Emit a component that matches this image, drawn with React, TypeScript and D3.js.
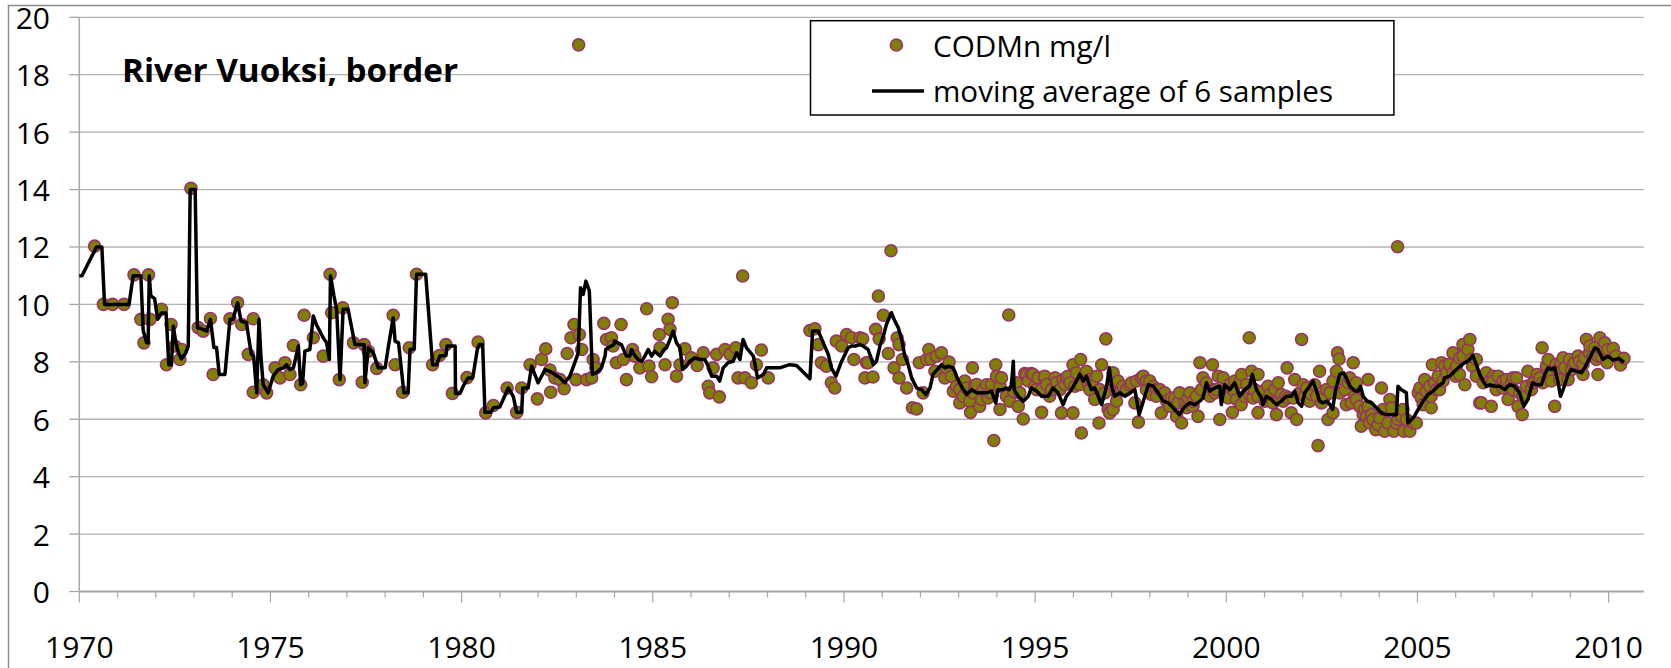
import { line, scaleLinear } from 'd3'
import { useMemo } from 'react'

type Sample = [number, number] // [decimal year, value]

// CODMn samples, mg/l
const codSamples: Sample[] = [
  [1970.4, 12.03], [1970.63, 10.0], [1970.87, 10.0], [1971.17, 10.0], [1971.43, 11.03], [1971.61, 9.48],
  [1971.69, 8.66], [1971.81, 11.03], [1971.85, 9.48], [1972.15, 9.83], [1972.28, 7.9], [1972.4, 9.3],
  [1972.5, 8.55], [1972.63, 8.08], [1972.68, 8.43], [1972.92, 14.04], [1973.11, 9.19], [1973.24, 9.07],
  [1973.43, 9.51], [1973.5, 7.56], [1973.94, 9.5], [1974.14, 10.06], [1974.25, 9.3], [1974.42, 8.26],
  [1974.55, 9.5], [1974.55, 6.94], [1974.81, 7.2], [1974.9, 6.92], [1975.12, 7.79], [1975.25, 7.44],
  [1975.38, 7.97], [1975.51, 7.56], [1975.6, 8.57], [1975.79, 7.2], [1975.88, 9.62], [1976.12, 8.84],
  [1976.38, 8.2], [1976.56, 11.05], [1976.6, 9.71], [1976.8, 7.38], [1976.89, 9.88], [1977.17, 8.66],
  [1977.4, 7.29], [1977.45, 8.6], [1977.56, 8.37], [1977.78, 7.77], [1978.21, 9.62], [1978.26, 7.9],
  [1978.46, 6.94], [1978.63, 8.49], [1978.82, 11.05], [1979.24, 7.9], [1979.42, 8.22], [1979.59, 8.6],
  [1979.76, 6.9], [1980.14, 7.45], [1980.43, 8.69], [1980.63, 6.22], [1980.83, 6.48], [1981.19, 7.09],
  [1981.44, 6.24], [1981.57, 7.09], [1981.79, 7.9], [1981.98, 6.71], [1982.09, 8.08], [1982.2, 8.45],
  [1982.31, 7.71], [1982.33, 6.94], [1982.44, 7.44], [1982.57, 7.38], [1982.68, 7.06], [1982.76, 8.29],
  [1982.86, 8.84], [1982.94, 9.3], [1982.99, 7.38], [1983.06, 19.04], [1983.08, 8.95], [1983.14, 8.43],
  [1983.27, 7.38], [1983.4, 7.44], [1983.44, 8.08], [1983.51, 7.79], [1983.72, 9.34], [1983.79, 8.78],
  [1983.92, 8.84], [1983.96, 8.55], [1984.05, 7.97], [1984.17, 9.3], [1984.23, 8.08], [1984.31, 7.38],
  [1984.47, 8.43], [1984.53, 8.2], [1984.66, 7.79], [1984.84, 9.85], [1984.9, 7.85], [1984.97, 7.48],
  [1985.17, 8.95], [1985.19, 8.49], [1985.32, 7.9], [1985.4, 9.48], [1985.45, 9.13], [1985.51, 10.06],
  [1985.62, 7.5], [1985.71, 7.9], [1985.84, 8.45], [1986.01, 8.14], [1986.16, 7.87], [1986.32, 8.31],
  [1986.45, 7.15], [1986.49, 6.92], [1986.58, 7.79], [1986.67, 8.26], [1986.74, 6.78], [1986.89, 8.43],
  [1987.02, 8.26], [1987.17, 8.49], [1987.23, 7.44], [1987.35, 10.99], [1987.41, 7.44], [1987.58, 7.27],
  [1987.71, 7.9], [1987.84, 8.41], [1988.02, 7.44], [1989.11, 9.09], [1989.24, 9.15], [1989.33, 8.6],
  [1989.41, 7.97], [1989.54, 7.85], [1989.67, 7.27], [1989.76, 7.09], [1989.8, 8.72], [1989.94, 8.55],
  [1990.07, 8.95], [1990.2, 8.84], [1990.26, 8.08], [1990.42, 8.84], [1990.49, 8.8], [1990.55, 7.44],
  [1990.59, 7.97], [1990.63, 7.97], [1990.76, 7.47], [1990.83, 9.13], [1990.9, 10.29], [1990.92, 8.8],
  [1991.03, 9.62], [1991.16, 8.29], [1991.23, 11.87], [1991.31, 7.79], [1991.39, 8.84], [1991.44, 8.6],
  [1991.44, 7.44], [1991.53, 8.08], [1991.64, 7.09], [1991.79, 6.4], [1991.9, 6.36], [1991.97, 7.97],
  [1992.07, 6.92], [1992.16, 8.08], [1992.22, 8.43], [1992.27, 8.1], [1992.38, 7.67], [1992.42, 8.2],
  [1992.55, 8.31], [1992.64, 7.44], [1992.68, 7.79], [1992.75, 7.99], [1992.81, 7.5], [1992.86, 6.98],
  [1992.94, 7.15], [1993.03, 6.57], [1993.03, 7.03], [1993.12, 6.8], [1993.16, 7.33], [1993.21, 7.09],
  [1993.29, 6.63], [1993.31, 6.24], [1993.36, 7.79], [1993.38, 6.92], [1993.42, 7.17], [1993.47, 7.21],
  [1993.55, 6.45], [1993.6, 6.69], [1993.64, 7.03], [1993.73, 7.2], [1993.77, 6.74], [1993.82, 6.92],
  [1993.86, 7.21], [1993.92, 5.26], [1993.97, 7.9], [1993.99, 7.5], [1994.08, 6.34], [1994.08, 7.15],
  [1994.12, 7.44], [1994.25, 6.8], [1994.31, 9.63], [1994.34, 6.63], [1994.43, 6.98], [1994.51, 7.27],
  [1994.56, 6.45], [1994.6, 6.92], [1994.69, 6.01], [1994.73, 7.59], [1994.77, 7.56], [1994.82, 7.33],
  [1994.9, 7.59], [1994.95, 7.56], [1994.99, 7.15], [1995.04, 7.03], [1995.08, 7.44], [1995.17, 6.24],
  [1995.17, 7.03], [1995.25, 7.44], [1995.25, 7.5], [1995.3, 7.21], [1995.38, 6.8], [1995.43, 7.03],
  [1995.52, 7.44], [1995.56, 7.27], [1995.65, 7.03], [1995.69, 6.22], [1995.73, 7.38], [1995.78, 7.21],
  [1995.82, 7.44], [1995.86, 7.5], [1995.91, 7.27], [1995.99, 7.9], [1995.99, 6.22], [1996.04, 7.15],
  [1996.08, 7.62], [1996.17, 7.21], [1996.19, 8.08], [1996.21, 5.52], [1996.27, 7.5], [1996.34, 7.67],
  [1996.39, 7.27], [1996.43, 7.03], [1996.43, 7.38], [1996.52, 7.33], [1996.56, 6.69], [1996.61, 7.5],
  [1996.67, 5.87], [1996.69, 7.03], [1996.74, 7.9], [1996.82, 6.92], [1996.85, 8.8], [1996.91, 6.34],
  [1996.95, 6.22], [1997.04, 7.62], [1997.04, 6.34], [1997.06, 7.27], [1997.13, 6.92], [1997.13, 6.63],
  [1997.17, 7.33], [1997.26, 7.03], [1997.3, 7.15], [1997.39, 7.03], [1997.48, 7.2], [1997.52, 7.27],
  [1997.61, 6.57], [1997.65, 7.33], [1997.7, 5.9], [1997.78, 7.44], [1997.83, 7.5], [1997.91, 7.33],
  [1997.91, 7.03], [1998.0, 7.33], [1998.04, 6.86], [1998.09, 7.15], [1998.17, 7.03], [1998.17, 6.8],
  [1998.26, 7.03], [1998.3, 6.22], [1998.39, 6.92], [1998.44, 6.63], [1998.52, 6.45], [1998.57, 6.74],
  [1998.65, 6.74], [1998.7, 6.1], [1998.74, 6.57], [1998.78, 6.92], [1998.83, 5.87], [1998.92, 6.57],
  [1998.96, 6.4], [1999.0, 6.74], [1999.05, 6.92], [1999.13, 6.45], [1999.13, 6.63], [1999.22, 6.8],
  [1999.26, 6.1], [1999.31, 7.97], [1999.35, 7.03], [1999.39, 7.44], [1999.48, 7.27], [1999.57, 6.8],
  [1999.64, 7.9], [1999.66, 7.03], [1999.7, 6.92], [1999.74, 7.03], [1999.79, 7.5], [1999.83, 5.99],
  [1999.92, 7.44], [1999.96, 6.92], [2000.0, 7.03], [2000.05, 6.74], [2000.09, 7.21], [2000.16, 6.24],
  [2000.18, 7.03], [2000.22, 7.33], [2000.27, 6.69], [2000.35, 7.27], [2000.39, 6.51], [2000.4, 7.56],
  [2000.48, 6.8], [2000.53, 7.21], [2000.6, 8.84], [2000.61, 6.86], [2000.66, 7.03], [2000.66, 7.67],
  [2000.7, 6.74], [2000.74, 7.03], [2000.83, 7.56], [2000.83, 6.23], [2000.83, 6.8], [2000.96, 6.98],
  [2001.01, 6.63], [2001.09, 7.15], [2001.14, 6.86], [2001.22, 6.57], [2001.27, 7.03], [2001.31, 6.16],
  [2001.36, 7.27], [2001.44, 6.86], [2001.49, 6.63], [2001.56, 6.8], [2001.59, 7.79], [2001.62, 6.74],
  [2001.7, 6.22], [2001.75, 6.74], [2001.79, 7.38], [2001.84, 5.99], [2001.92, 6.92], [2001.97, 8.78],
  [2002.01, 7.2], [2002.05, 6.8], [2002.1, 7.09], [2002.18, 6.63], [2002.23, 6.86], [2002.31, 7.2],
  [2002.36, 6.8], [2002.4, 5.08], [2002.44, 7.67], [2002.49, 6.57], [2002.58, 6.8], [2002.62, 7.03],
  [2002.66, 5.99], [2002.71, 6.92], [2002.79, 6.22], [2002.79, 7.33], [2002.88, 7.67], [2002.91, 8.31],
  [2002.95, 8.1], [2002.97, 6.92], [2003.06, 7.38], [2003.1, 7.03], [2003.14, 6.51], [2003.19, 7.27],
  [2003.23, 7.44], [2003.27, 6.57], [2003.32, 7.97], [2003.36, 6.8], [2003.4, 7.27], [2003.4, 6.69],
  [2003.49, 6.45], [2003.53, 5.76], [2003.58, 6.16], [2003.62, 6.34], [2003.67, 6.1], [2003.71, 7.38],
  [2003.71, 6.45], [2003.75, 5.87], [2003.8, 6.16], [2003.84, 5.99], [2003.91, 5.64], [2003.97, 5.81],
  [2004.01, 6.05], [2004.06, 7.09], [2004.1, 6.34], [2004.14, 5.58], [2004.23, 5.87], [2004.28, 6.69],
  [2004.32, 6.4], [2004.38, 5.58], [2004.45, 5.87], [2004.48, 12.01], [2004.49, 5.99], [2004.58, 6.1],
  [2004.62, 6.34], [2004.64, 5.58], [2004.71, 5.99], [2004.8, 5.58], [2004.89, 5.87], [2004.97, 5.87],
  [2005.02, 6.92], [2005.06, 7.09], [2005.1, 6.74], [2005.15, 6.51], [2005.19, 7.38], [2005.23, 6.98],
  [2005.32, 7.15], [2005.36, 6.4], [2005.36, 6.8], [2005.39, 7.9], [2005.45, 7.27], [2005.5, 7.03],
  [2005.54, 7.5], [2005.58, 7.03], [2005.63, 7.97], [2005.67, 7.33], [2005.71, 7.85], [2005.76, 7.62],
  [2005.84, 7.91], [2005.93, 8.31], [2005.93, 7.62], [2006.0, 7.5], [2006.02, 7.85], [2006.1, 7.56],
  [2006.11, 8.14], [2006.19, 8.6], [2006.19, 8.2], [2006.24, 7.2], [2006.32, 8.43], [2006.37, 8.78],
  [2006.41, 8.08], [2006.44, 7.85], [2006.54, 8.08], [2006.54, 7.5], [2006.63, 6.57], [2006.67, 6.57],
  [2006.72, 7.27], [2006.76, 7.5], [2006.8, 7.62], [2006.89, 7.33], [2006.93, 6.45], [2006.98, 7.5],
  [2006.98, 7.33], [2007.06, 7.03], [2007.11, 7.5], [2007.2, 7.21], [2007.24, 7.33], [2007.24, 7.09],
  [2007.33, 7.38], [2007.37, 6.69], [2007.46, 7.27], [2007.5, 7.44], [2007.5, 7.03], [2007.59, 7.44],
  [2007.63, 6.45], [2007.67, 6.92], [2007.74, 6.16], [2007.76, 6.8], [2007.85, 7.15], [2007.89, 7.67],
  [2007.98, 7.03], [2008.02, 7.27], [2008.07, 7.33], [2008.13, 7.56], [2008.2, 7.44], [2008.26, 8.49],
  [2008.28, 7.27], [2008.37, 7.85], [2008.42, 8.08], [2008.46, 7.62], [2008.5, 7.33], [2008.59, 6.45],
  [2008.63, 7.91], [2008.68, 7.73], [2008.72, 7.38], [2008.76, 7.97], [2008.81, 8.14], [2008.85, 7.79],
  [2008.94, 7.38], [2008.98, 8.08], [2009.03, 7.73], [2009.07, 7.9], [2009.11, 7.97], [2009.2, 8.2],
  [2009.24, 8.02], [2009.33, 7.56], [2009.33, 7.91], [2009.37, 8.14], [2009.42, 8.78], [2009.5, 8.31],
  [2009.51, 8.55], [2009.59, 8.2], [2009.64, 8.49], [2009.68, 8.08], [2009.72, 7.56], [2009.72, 8.2],
  [2009.77, 8.84], [2009.81, 8.2], [2009.85, 8.43], [2009.9, 8.66], [2009.96, 7.97], [2009.98, 8.43],
  [2010.12, 8.47], [2010.2, 8.2], [2010.31, 7.89], [2010.4, 8.12],
]

// moving average of 6 samples, as drawn
const movingAverage: Sample[] = [
  [1970.0, 11], [1970.07, 11], [1970.45, 12], [1970.59, 12], [1970.66, 10], [1971.3, 10], [1971.41, 11],
  [1971.61, 11], [1971.67, 9.1], [1971.76, 8.66], [1971.8, 8.66], [1971.83, 11], [1971.87, 10.3],
  [1971.97, 10.2], [1972.05, 9.48], [1972.15, 9.7], [1972.27, 9.7], [1972.34, 7.9], [1972.41, 7.9],
  [1972.46, 9.25], [1972.52, 8.7], [1972.6, 8.3], [1972.67, 8.1], [1972.78, 8.3], [1972.85, 8.55],
  [1972.9, 14], [1973.03, 14], [1973.09, 9.19], [1973.23, 9.13], [1973.33, 9.07], [1973.43, 9.48],
  [1973.52, 8.5], [1973.59, 8.5], [1973.66, 7.56], [1973.81, 7.56], [1973.94, 9.48], [1974.02, 9.48],
  [1974.14, 10.06], [1974.23, 9.42], [1974.37, 9.36], [1974.5, 8.26], [1974.56, 8.2], [1974.64, 6.92],
  [1974.7, 9.48], [1974.75, 8.2], [1974.81, 7.2], [1974.94, 6.92], [1975.07, 7.5], [1975.2, 7.73],
  [1975.35, 7.79], [1975.42, 7.9], [1975.51, 7.73], [1975.6, 7.79], [1975.73, 8.55], [1975.79, 7.2],
  [1975.84, 7.25], [1975.9, 8.37], [1976.03, 8.43], [1976.12, 9.6], [1976.2, 9.3], [1976.29, 9.07],
  [1976.38, 8.84], [1976.47, 8.66], [1976.54, 8.08], [1976.57, 11], [1976.66, 10.3], [1976.73, 9.83],
  [1976.82, 7.38], [1976.9, 9.83], [1977.03, 9.83], [1977.21, 8.6], [1977.45, 8.6], [1977.47, 7.27],
  [1977.56, 8.49], [1977.69, 8.31], [1977.82, 7.79], [1978.0, 7.79], [1978.08, 8.5], [1978.21, 9.53],
  [1978.26, 8.72], [1978.35, 8.66], [1978.49, 6.92], [1978.6, 6.92], [1978.65, 8.43], [1978.76, 8.45],
  [1978.82, 11.05], [1979.06, 11.05], [1979.24, 7.9], [1979.35, 7.9], [1979.43, 8.2], [1979.59, 8.22],
  [1979.62, 8.55], [1979.83, 8.55], [1979.84, 6.9], [1979.96, 6.9], [1980.04, 7.15], [1980.17, 7.44],
  [1980.29, 7.44], [1980.41, 8.43], [1980.46, 8.6], [1980.55, 8.6], [1980.61, 6.24], [1980.76, 6.24],
  [1980.83, 6.4], [1981.0, 6.43], [1981.22, 7.09], [1981.35, 6.8], [1981.44, 6.24], [1981.57, 6.24],
  [1981.6, 7.09], [1981.74, 7.09], [1981.83, 7.85], [1982.0, 7.27], [1982.18, 7.73], [1982.31, 7.67],
  [1982.44, 7.56], [1982.57, 7.44], [1982.7, 7.27], [1982.83, 7.5], [1982.96, 7.97], [1983.05, 8.31],
  [1983.11, 10.58], [1983.18, 10.35], [1983.25, 10.81], [1983.34, 10.47], [1983.42, 7.56], [1983.53, 7.62],
  [1983.66, 7.79], [1983.75, 8.2], [1983.77, 8.43], [1983.83, 8.49], [1983.98, 8.6], [1984.0, 8.72],
  [1984.18, 8.6], [1984.31, 8.2], [1984.4, 8.2], [1984.44, 8.43], [1984.53, 8.22], [1984.62, 8.08],
  [1984.71, 8.02], [1984.79, 8.2], [1984.88, 8.43], [1984.97, 8.2], [1985.05, 8.37], [1985.19, 8.2],
  [1985.29, 8.43], [1985.36, 8.49], [1985.45, 8.78], [1985.53, 9.07], [1985.62, 8.66], [1985.71, 8.49],
  [1985.78, 7.73], [1985.88, 7.85], [1985.97, 8.02], [1986.1, 8.14], [1986.23, 8.08], [1986.36, 8.08],
  [1986.45, 7.85], [1986.54, 7.5], [1986.67, 7.5], [1986.75, 7.33], [1986.84, 7.79], [1986.97, 7.97],
  [1987.1, 8.02], [1987.19, 8.31], [1987.28, 8.08], [1987.36, 8.78], [1987.45, 8.49], [1987.63, 8.2],
  [1987.74, 7.44], [1987.89, 7.56], [1987.98, 7.79], [1988.32, 7.79], [1988.58, 7.9], [1988.76, 7.87],
  [1989.11, 7.41], [1989.18, 9.07], [1989.33, 9.07], [1989.46, 8.66], [1989.59, 8.26], [1989.67, 7.79],
  [1989.79, 7.5], [1989.94, 8.02], [1990.11, 8.49], [1990.2, 8.55], [1990.3, 8.55], [1990.42, 8.6],
  [1990.5, 8.55], [1990.63, 8.43], [1990.77, 7.9], [1990.85, 8.02], [1990.94, 8.55], [1991.03, 8.9],
  [1991.11, 9.3], [1991.24, 9.71], [1991.33, 9.42], [1991.42, 9.19], [1991.51, 8.78], [1991.59, 8.2],
  [1991.68, 7.9], [1991.77, 7.44], [1991.9, 7.09], [1992.03, 7.03], [1992.14, 6.86], [1992.25, 7.09],
  [1992.33, 7.56], [1992.44, 7.73], [1992.55, 7.9], [1992.64, 7.79], [1992.73, 7.85], [1992.86, 7.79],
  [1992.96, 7.44], [1993.07, 7.15], [1993.21, 6.86], [1993.34, 7.03], [1993.47, 6.92], [1993.6, 6.92],
  [1993.73, 6.92], [1993.86, 6.98], [1993.97, 6.57], [1994.03, 7.03], [1994.15, 7.03], [1994.25, 7.09],
  [1994.32, 7.03], [1994.38, 7.2], [1994.43, 8.02], [1994.45, 7.03], [1994.56, 6.8], [1994.69, 6.63],
  [1994.82, 6.8], [1994.9, 7.09], [1995.04, 6.98], [1995.17, 6.8], [1995.34, 6.8], [1995.47, 7.09],
  [1995.6, 6.92], [1995.73, 6.51], [1995.82, 6.8], [1995.95, 7.03], [1996.08, 7.33], [1996.17, 7.56],
  [1996.26, 7.33], [1996.34, 7.5], [1996.47, 7.03], [1996.56, 7.09], [1996.65, 6.8], [1996.74, 6.51],
  [1996.87, 7.15], [1996.94, 7.79], [1997.0, 7.15], [1997.08, 6.8], [1997.22, 6.92], [1997.35, 6.8],
  [1997.48, 6.92], [1997.61, 7.03], [1997.72, 6.16], [1997.83, 6.63], [1997.96, 7.2], [1998.09, 7.15],
  [1998.22, 6.92], [1998.35, 6.63], [1998.48, 6.57], [1998.61, 6.4], [1998.77, 6.16], [1998.92, 6.45],
  [1999.05, 6.57], [1999.18, 6.51], [1999.31, 6.63], [1999.39, 6.74], [1999.48, 7.27], [1999.57, 6.98],
  [1999.7, 7.09], [1999.83, 7.15], [1999.87, 6.51], [1999.96, 7.2], [2000.09, 7.03], [2000.22, 7.27],
  [2000.35, 6.8], [2000.48, 7.03], [2000.61, 7.15], [2000.68, 7.56], [2000.79, 7.03], [2000.92, 6.74],
  [2000.96, 6.51], [2001.05, 6.8], [2001.18, 6.69], [2001.31, 6.51], [2001.44, 6.63], [2001.57, 6.8],
  [2001.7, 6.8], [2001.79, 6.98], [2001.88, 6.57], [2001.97, 6.45], [2002.05, 6.92], [2002.18, 7.15],
  [2002.27, 7.33], [2002.36, 6.98], [2002.44, 6.63], [2002.53, 6.57], [2002.64, 6.63], [2002.71, 6.51],
  [2002.78, 6.34], [2002.86, 7.03], [2002.97, 7.56], [2003.07, 7.62], [2003.14, 7.44], [2003.23, 7.15],
  [2003.36, 6.98], [2003.45, 6.98], [2003.51, 7.15], [2003.58, 6.8], [2003.68, 6.63], [2003.8, 6.57],
  [2003.93, 6.4], [2004.06, 6.22], [2004.19, 6.16], [2004.32, 6.16], [2004.45, 6.16], [2004.49, 7.15],
  [2004.58, 7.03], [2004.71, 6.92], [2004.75, 5.87], [2004.89, 6.05], [2005.02, 6.34], [2005.15, 6.63],
  [2005.28, 6.86], [2005.41, 6.98], [2005.54, 7.15], [2005.67, 7.27], [2005.71, 7.44], [2005.84, 7.5],
  [2006.02, 7.73], [2006.12, 7.85], [2006.24, 7.97], [2006.32, 8.02], [2006.45, 8.22], [2006.54, 7.9],
  [2006.63, 7.56], [2006.72, 7.33], [2006.8, 7.15], [2006.89, 7.2], [2007.02, 7.15], [2007.15, 7.15],
  [2007.28, 7.03], [2007.41, 7.2], [2007.54, 7.15], [2007.67, 6.92], [2007.78, 6.45], [2007.89, 6.69],
  [2008.01, 7.27], [2008.11, 7.2], [2008.24, 7.2], [2008.33, 7.56], [2008.42, 7.79], [2008.5, 7.73],
  [2008.59, 7.79], [2008.68, 7.27], [2008.74, 6.8], [2008.81, 7.03], [2008.94, 7.56], [2009.03, 7.73],
  [2009.16, 7.67], [2009.29, 7.62], [2009.37, 7.79], [2009.51, 8.14], [2009.64, 8.49], [2009.72, 8.43],
  [2009.85, 8.08], [2009.98, 8.2], [2010.12, 8.06], [2010.27, 8.12], [2010.4, 7.98],
]

const yTicks = [0, 2, 4, 6, 8, 10, 12, 14, 16, 18, 20]
const xLabelYears = [1970, 1975, 1980, 1985, 1990, 1995, 2000, 2005, 2010]
const xMinorYears = [
  1971, 1972, 1973, 1974, 1976, 1977, 1978, 1979, 1981, 1982, 1983, 1984, 1986, 1987, 1988, 1989, 1991,
  1992, 1993, 1994, 1996, 1997, 1998, 1999, 2001, 2002, 2003, 2004, 2006, 2007, 2008, 2009,
]
const chartTitle = 'River Vuoksi, border'
const legendLabels = ['CODMn mg/l', 'moving average of 6 samples']

const FONT = "'Open Sans', 'DejaVu Sans', sans-serif"
const DOT_FILL = '#808000'
const DOT_STROKE = '#993366'
const GRID = '#b3b3b3'
const AXIS = '#a6a6a6'

export default function App() {
  const left = 79.3
  const right = 1643.8
  const top = 17.3
  const bottom = 591.5

  // x scale (decimal years)
  const xScale = useMemo(() => scaleLinear().domain([1970, 2010.92]).range([left, right]), [])
  // y scale
  const yScale = useMemo(() => scaleLinear().domain([0, 20]).range([bottom, top]), [])

  const avgPath = useMemo(
    () =>
      line<Sample>()
        .x((d) => xScale(d[0]))
        .y((d) => yScale(d[1]))(movingAverage) ?? '',
    [xScale, yScale]
  )

  return (
    <div style={{ position: 'absolute', left: 0, top: 0, background: '#fff' }}>
      <svg width={1671} height={668} style={{ display: 'block' }} fontFamily={FONT}>
        <rect x={0} y={0} width={1671} height={668} fill="#fff" />
        <rect x={8.5} y={5.5} width={1700} height={700} fill="none" stroke="#8c8c8c" strokeWidth={1.5} />

        {/* gridlines + y ticks */}
        {yTicks.map((t) => (
          <g key={t}>
            {t > 0 && <line x1={left} x2={right} y1={yScale(t)} y2={yScale(t)} stroke={GRID} strokeWidth={1.3} />}
            <line x1={left - 10} x2={left} y1={yScale(t)} y2={yScale(t)} stroke={AXIS} strokeWidth={1.3} />
            <text x={50} y={yScale(t) + 11.5} textAnchor="end" fontSize={30} fill="#000">
              {t}
            </text>
          </g>
        ))}

        {/* axes */}
        <line x1={left} x2={left} y1={top} y2={bottom} stroke={AXIS} strokeWidth={1.5} />
        <line x1={left} x2={right} y1={bottom} y2={bottom} stroke={AXIS} strokeWidth={2} />
        {xMinorYears.map((yr) => (
          <line key={yr} x1={xScale(yr)} x2={xScale(yr)} y1={bottom} y2={bottom + 6} stroke={AXIS} strokeWidth={1.2} />
        ))}
        {xLabelYears.map((yr) => (
          <g key={yr}>
            <line x1={xScale(yr)} x2={xScale(yr)} y1={bottom} y2={bottom + 11} stroke={AXIS} strokeWidth={1.2} />
            <text x={xScale(yr)} y={658} textAnchor="middle" fontSize={30} fill="#000">
              {yr}
            </text>
          </g>
        ))}

        {/* samples */}
        {codSamples.map((d, i) => (
          <circle
            key={i}
            cx={xScale(d[0])}
            cy={yScale(d[1])}
            r={6}
            fill={DOT_FILL}
            stroke={DOT_STROKE}
            strokeWidth={1.6}
          />
        ))}

        {/* moving average */}
        <path d={avgPath} fill="none" stroke="#000" strokeWidth={3.5} strokeLinejoin="round" />

        {/* title */}
        <text x={122} y={81.7} fontSize={33} fontWeight="bold" textLength={336} lengthAdjust="spacingAndGlyphs">
          {chartTitle}
        </text>

        {/* legend */}
        <rect x={810.5} y={20.7} width={583.4} height={94.3} fill="#fff" stroke="#000" strokeWidth={1.5} />
        <circle cx={896.4} cy={45} r={6} fill={DOT_FILL} stroke={DOT_STROKE} strokeWidth={1.6} />
        <text x={933} y={56.7} fontSize={30} textLength={178} lengthAdjust="spacingAndGlyphs">
          {legendLabels[0]}
        </text>
        <line x1={872} x2={924} y1={91} y2={91} stroke="#000" strokeWidth={3.5} />
        <text x={933} y={101.7} fontSize={30} textLength={400} lengthAdjust="spacingAndGlyphs">
          {legendLabels[1]}
        </text>
      </svg>
    </div>
  )
}
